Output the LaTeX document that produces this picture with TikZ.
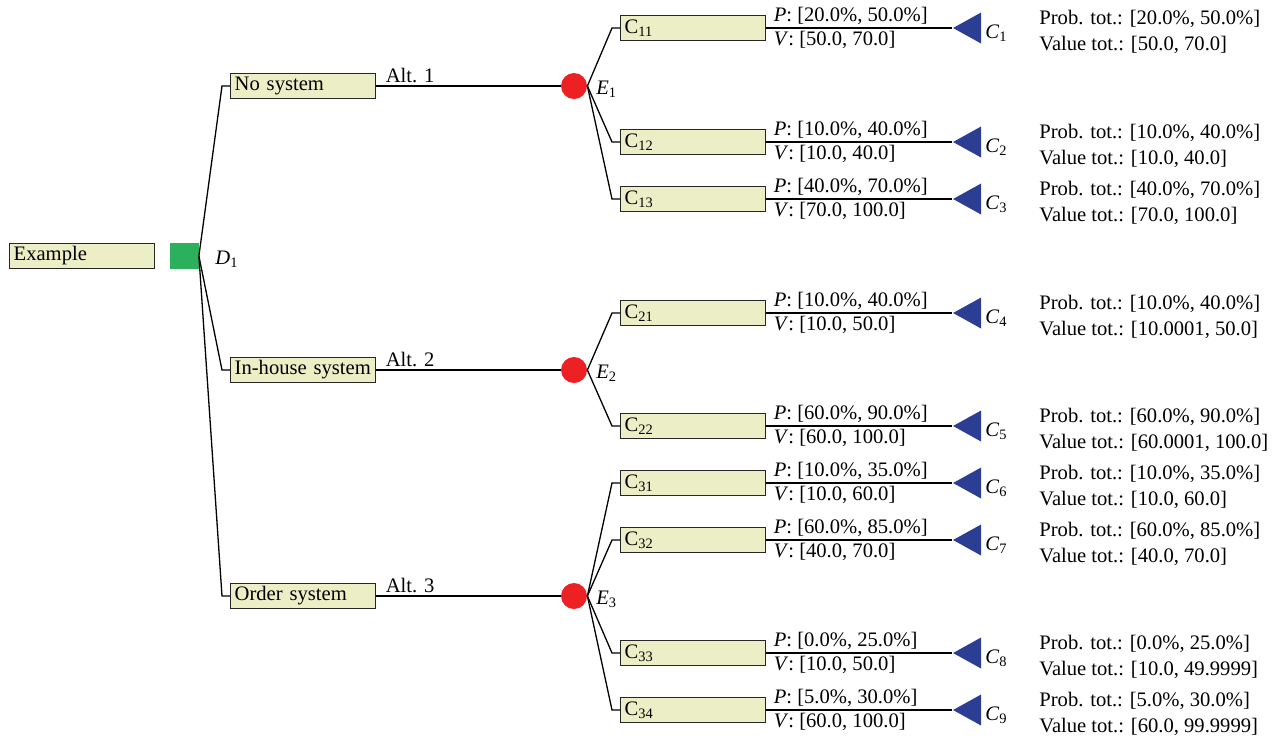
\documentclass[tikz,border=0pt]{standalone}
\usepackage{fontspec}
\setmainfont{Liberation Serif}
\usepackage{tikz}
\usetikzlibrary{calc,shapes.geometric}

\definecolor{boxfill}{RGB}{236,238,198}
\definecolor{decgreen}{RGB}{44,176,92}
\definecolor{chancered}{RGB}{237,32,36}
\definecolor{outblue}{RGB}{44,62,148}

\begin{document}
\begin{tikzpicture}[x=0.5pt,y=-0.5pt,
    font=\fontsize{10.3}{13.3}\selectfont,
    box/.style={draw=black!85,line width=0.7pt,fill=boxfill,anchor=west,
      text width=68.5pt,minimum height=12.5pt,inner xsep=2pt,inner ysep=0pt,align=left},
    decision/.style={fill=decgreen,minimum width=14.5pt,minimum height=13pt,inner sep=0pt},
    chance/.style={circle,fill=chancered,minimum size=13pt,inner sep=0pt},
    outcome/.style={isosceles triangle,shape border rotate=180,isosceles triangle stretches,
      minimum width=15.5pt,minimum height=14pt,inner sep=0pt,fill=outblue,anchor=apex},
    link/.style={line width=0.65pt},
    tag/.style={inner sep=1.5pt}
  ]
    \useasboundingbox (0,0) rectangle (1273,735);

    \node[box] (root) at (9,256) {Example};
    \node[decision] (d) at (184,256) {};
    \node[tag,anchor=west] (dlab) at (212,259) {\textit{D}\textsubscript{1}};

    \foreach \i/\y/\txt in {1/86/No system,2/370/In-house system,3/596/Order system} {
      \node[box] (alt\i) at (230,\y) {\txt};
      \node[chance] (e\i) at (574,\y) {};
      \node[tag,anchor=west] (elab\i) at (593,\y+3) {\textit{E}\textsubscript{\i}};
      \node[tag,anchor=south west] (altlab\i) at ($(alt\i.east)+(6,0)$) {Alt. \i};
      \draw[link] (d.east) -- (222,\y) -- (alt\i.west);
      \draw[link] (alt\i.east) -- (e\i);
    };

    \foreach \k/\e/\y/\c/\p/\v/\vt in {%
      11/1/28/1/{[20.0\%, 50.0\%]}/{[50.0, 70.0]}/{[50.0, 70.0]},
      12/1/142/2/{[10.0\%, 40.0\%]}/{[10.0, 40.0]}/{[10.0, 40.0]},
      13/1/199/3/{[40.0\%, 70.0\%]}/{[70.0, 100.0]}/{[70.0, 100.0]},
      21/2/313/4/{[10.0\%, 40.0\%]}/{[10.0, 50.0]}/{[10.0001, 50.0]},
      22/2/426/5/{[60.0\%, 90.0\%]}/{[60.0, 100.0]}/{[60.0001, 100.0]},
      31/3/483/6/{[10.0\%, 35.0\%]}/{[10.0, 60.0]}/{[10.0, 60.0]},
      32/3/540/7/{[60.0\%, 85.0\%]}/{[40.0, 70.0]}/{[40.0, 70.0]},
      33/3/653/8/{[0.0\%, 25.0\%]}/{[10.0, 50.0]}/{[10.0, 49.9999]},
      34/3/710/9/{[5.0\%, 30.0\%]}/{[60.0, 100.0]}/{[60.0, 99.9999]}} {
      \node[box] (c\k) at (620,\y) {C\textsubscript{\k}};
      \node[outcome] (t\c) at (952,\y) {};
      \node[tag,anchor=south west] (p\k) at ($(c\k.east)+(4,0)$) {\textit{P}: \p};
      \node[tag,anchor=north west] (v\k) at ($(c\k.east)+(4,0)$) {\textit{V}: \v};
      \node[tag,anchor=west] (clab\c) at (982,\y+5) {\textit{C}\textsubscript{\c}};
      \node[tag,anchor=west,align=left] (tot\c) at (1036,\y+4) {Prob. tot.: \p\\Value tot.: \vt};
      \draw[link] (e\e.east) -- (612,\y) -- (c\k.west);
      \draw[link] (c\k.east) -- (t\c.apex);
    };
\end{tikzpicture}
\end{document}
